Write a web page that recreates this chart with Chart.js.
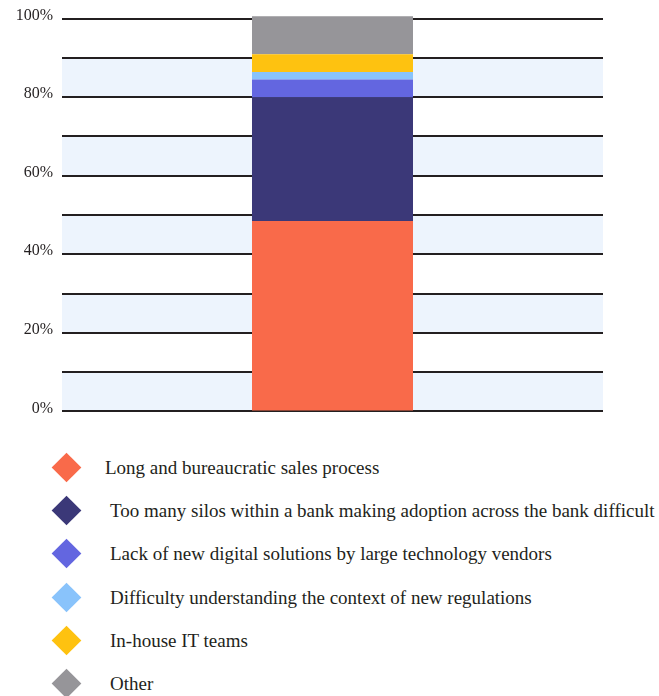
<!DOCTYPE html>
<html>
<head>
<meta charset="utf-8">
<title>Barriers to adoption</title>
<script src="https://cdn.jsdelivr.net/npm/chart.js@4"></script>
<style>
	body {
		margin: 0;
		background: #ffffff;
		width: 659px;
		height: 696px;
		overflow: hidden;
		font-family: "Liberation Serif", "DejaVu Serif", serif;
		color: #231f20;
	}

	.chart-box {
		position: relative;
		width: 659px;
		height: 430px;
	}

	#legend {
		list-style: none;
		margin: 0;
		padding: 16px 0 0 0;
	}

	#legend li {
		position: relative;
		height: 43.2px;
		line-height: 43.2px;
		font-size: 19px;
		padding-left: 110px;
		white-space: nowrap;
	}

	#legend li:first-child {
		padding-left: 105px;
	}

	#legend .swatch {
		position: absolute;
		left: 55.5px;
		top: 11px;
		width: 21px;
		height: 21px;
		transform: rotate(45deg);
	}
</style>
</head>
<body>
<div class="chart-box">
	<canvas id="barrierChart" width="659" height="430"></canvas>
</div>
<ul id="legend"></ul>

<script>
const categories = ["All respondents"];
const seriesNames = [
	"Long and bureaucratic sales process",
	"Too many silos within a bank making adoption across the bank difficult",
	"Lack of new digital solutions by large technology vendors",
	"Difficulty understanding the context of new regulations",
	"In-house IT teams",
	"Other"
];
const seriesValues = [48.5, 31.4, 4.6, 1.9, 4.5, 9.7];
const seriesColors = ["#f96a4a", "#3b3878", "#6366e0", "#89c3fb", "#fec210", "#969599"];
const tickLabels = ["0%", "20%", "40%", "60%", "80%", "100%"];

const INK = "#231f20";
const BAND = "#edf4fd";

// light blue bands behind every other 10% step
const bandPlugin = {
	id: "bands",
	beforeDraw: function (chart) {
		const ctx = chart.ctx;
		const area = chart.chartArea;
		const y = chart.scales.y;
		ctx.save();
		ctx.fillStyle = BAND;
		for (let v = 0; v < 100; v += 20) {
			const top = y.getPixelForValue(v + 10);
			const bottom = y.getPixelForValue(v);
			ctx.fillRect(area.left, top, area.right - area.left, bottom - top);
		}
		ctx.restore();
	}
};

const datasets = seriesNames.map(function (name, i) {
	return {
		label: name,
		data: [seriesValues[i]],
		backgroundColor: seriesColors[i],
		borderWidth: 0,
		barPercentage: 1,
		categoryPercentage: 0.2976,
		clip: false
	};
});

new Chart(document.getElementById("barrierChart"), {
	type: "bar",
	data: {
		labels: categories,
		datasets: datasets
	},
	plugins: [bandPlugin],
	options: {
		responsive: false,
		animation: false,
		layout: {
			padding: { top: 17, right: 56, bottom: 17, left: 0 }
		},
		plugins: {
			legend: { display: false },
			tooltip: { enabled: false }
		},
		scales: {
			x: {
				display: false,
				stacked: true
			},
			y: {
				stacked: true,
				min: 0,
				max: 100,
				border: { display: false },
				grid: {
					color: INK,
					lineWidth: 2,
					drawTicks: false
				},
				ticks: {
					stepSize: 10,
					padding: 9,
					labelOffset: -3,
					color: INK,
					font: { family: "'Liberation Serif', 'DejaVu Serif', serif", size: 16 },
					callback: function (value) {
						return value % 20 === 0 ? tickLabels[value / 20] : "";
					}
				},
				afterFit: function (scale) {
					scale.width = 62;
				}
			}
		}
	}
});

const legend = document.getElementById("legend");
seriesNames.forEach(function (name, i) {
	const item = document.createElement("li");
	const swatch = document.createElement("span");
	swatch.className = "swatch";
	swatch.style.background = seriesColors[i];
	item.appendChild(swatch);
	item.appendChild(document.createTextNode(name));
	legend.appendChild(item);
});
</script>
</body>
</html>
